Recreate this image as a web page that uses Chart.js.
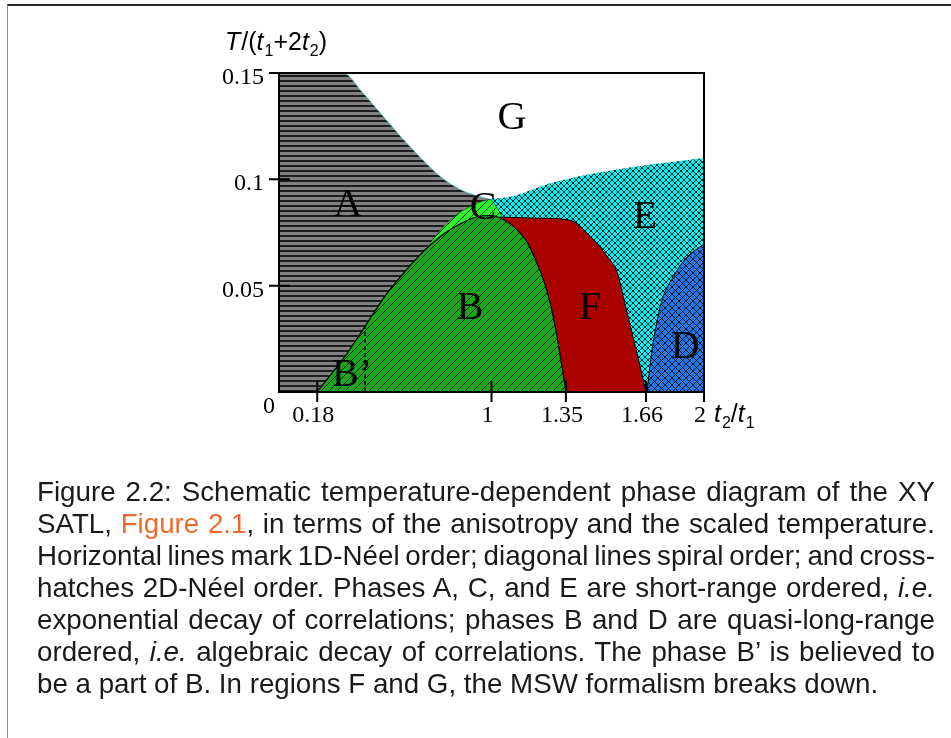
<!DOCTYPE html>
<html>
<head>
<meta charset="utf-8">
<script src="https://cdn.jsdelivr.net/npm/chart.js@4.4.0/dist/chart.umd.min.js"></script>
<style>
  html, body { margin: 0; padding: 0; background: #fff; }
  #page { position: relative; width: 951px; height: 738px; overflow: hidden; }
  #topline { position: absolute; left: 7px; top: 4px; width: 944px; height: 2px; background: #2b2b2b; }
  #leftline { position: absolute; left: 7px; top: 5px; width: 1px; height: 733px; background: #8c8c8c; }
  #c { position: absolute; left: 0; top: 0; }
  #caption { position: absolute; left: 37px; top: 476px; width: 907px;
    transform: scaleX(0.99); transform-origin: 0 0;
    font-family: "Liberation Sans", sans-serif;
    font-size: 28px; line-height: 32px; color: #1a1a1a; }
  #caption .j { text-align: justify; text-align-last: justify; word-spacing: -4px; }
  #caption .ref { color: #ee6a2c; }
</style>
</head>
<body>
<div id="page">
  <div id="topline"></div>
  <div id="leftline"></div>
  <canvas id="c" width="951" height="738"></canvas>
  <div id="caption">
    <div class="j">Figure 2.2: Schematic temperature-dependent phase diagram of the XY</div>
    <div class="j">SATL, <span class="ref">Figure 2.1</span>, in terms of the anisotropy and the scaled temperature.</div>
    <div class="j">Horizontal lines mark 1D-Néel order; diagonal lines spiral order; and cross-</div>
    <div class="j">hatches 2D-Néel order. Phases A, C, and E are short-range ordered, <i>i.e.</i></div>
    <div class="j">exponential decay of correlations; phases B and D are quasi-long-range</div>
    <div class="j">ordered, <i>i.e.</i> algebraic decay of correlations. The phase B’ is believed to</div>
    <div>be a part of B. In regions F and G, the MSW formalism breaks down.</div>
  </div>
</div>
<script>
// phase boundaries, x = t2/t1, y = T/(t1+2t2)
// (the figure is schematic: the tick labelled 1.66 sits at x = 1.727 on a linear axis)
var xTicks = [0.18, 1, 1.35, 1.727, 2];
var xTickLabels = ['0.18', '1', '1.35', '1.66', '2'];
var yTicks = [0.05, 0.1, 0.15];
var yTickLabels = ['0.05', '0.1', '0.15'];

var aX = [0, 0.301, 0.391, 0.485, 0.579, 0.673, 0.758, 0.842, 0.922, 0.993];
var aY = [0.15, 0.15, 0.1411, 0.1302, 0.1194, 0.1095, 0.1015, 0.0958, 0.0925, 0.0907];

var bX = [0.179, 0.320, 0.414, 0.508, 0.593, 0.687, 0.781, 0.861, 0.932, 0.993, 1.049, 1.111, 1.167, 1.214, 1.261, 1.299, 1.327, 1.351];
var bY = [0, 0.0181, 0.0323, 0.0464, 0.0567, 0.0668, 0.0748, 0.0795, 0.0824, 0.0830, 0.0815, 0.0772, 0.0706, 0.0606, 0.0476, 0.0313, 0.0148, 0];

var cX = [0.687, 0.781, 0.838, 0.899, 0.960, 0.993, 1.026, 1.054];
var cY = [0.0668, 0.0786, 0.0835, 0.0872, 0.0898, 0.0905, 0.0866, 0.0817];

var eX = [0.993, 1.101, 1.261, 1.416, 1.572, 1.732, 1.887, 2.0];
var eY = [0.0907, 0.0921, 0.0977, 0.1015, 0.1043, 0.1067, 0.1086, 0.1100];

var fX = [1.040, 1.228, 1.369, 1.464, 1.544, 1.591, 1.624, 1.666, 1.704, 1.727];
var fY = [0.0822, 0.0817, 0.0808, 0.0732, 0.0638, 0.0563, 0.0431, 0.0257, 0.0101, 0];

var dX = [1.732, 1.746, 1.765, 1.802, 1.854, 1.920, 2.0];
var dY = [0, 0.0125, 0.0257, 0.0431, 0.0540, 0.0635, 0.0695];

var bPrimeX = [0.405, 0.405];
var bPrimeY = [0, 0.031];

var labels = ['G', 'A', 'C', 'E', 'B', 'F', 'D', 'B’'];
var labelX = [1.096, 0.325, 0.960, 1.722, 0.899, 1.464, 1.911, 0.344];
var labelY = [0.1288, 0.0878, 0.0864, 0.0822, 0.0393, 0.0393, 0.0210, 0.0078];

function pts(xs, ys) {
    return xs.map(function(x, i) { return {x: x, y: ys[i]} })
}

var canvas = document.getElementById('c');
var ctx = canvas.getContext('2d');

function tile(w, h, bg, draw) {
    var t = document.createElement('canvas');
    t.width = w; t.height = h;
    var g = t.getContext('2d');
    g.fillStyle = bg;
    g.fillRect(0, 0, w, h);
    draw(g, w, h);
    return ctx.createPattern(t, 'repeat');
}
function diag(g, s, cross) {
    g.strokeStyle = 'rgba(0,0,0,0.85)';
    g.lineWidth = 1;
    g.beginPath();
    g.moveTo(-1, s + 1); g.lineTo(s + 1, -1);
    g.moveTo(-1, 1); g.lineTo(1, -1);
    g.moveTo(s - 1, s + 1); g.lineTo(s + 1, s - 1);
    if (cross) {
        g.moveTo(-1, -1); g.lineTo(s + 1, s + 1);
        g.moveTo(s - 1, -1); g.lineTo(s + 1, 1);
        g.moveTo(-1, s - 1); g.lineTo(1, s + 1);
    }
    g.stroke();
}

var hLines = tile(8, 5, '#808080', function(g, w) { g.fillStyle = '#1e1e1e'; g.fillRect(0, 0, w, 2) });
var greenDiag = tile(8, 8, '#18a818', function(g, s) { diag(g, s, false) });
var limeDiag = tile(8, 8, '#2cf22c', function(g, s) { diag(g, s, false) });
var cyanCross = tile(6, 6, '#00f4f4', function(g, s) { diag(g, s, true) });
var blueCross = tile(7, 7, '#1f78ea', function(g, s) { diag(g, s, true) });

var decor = {
    id: 'decor',
    afterDatasetsDraw: function(chart) {
        var c = chart.ctx, xs = chart.scales.x, ys = chart.scales.y, a = chart.chartArea;
        c.save();
        c.strokeStyle = '#000';
        c.lineWidth = 2;
        c.strokeRect(a.left, a.top, a.right - a.left, a.bottom - a.top);
        c.beginPath();
        yTicks.forEach(function(v) {
            var py = ys.getPixelForValue(v);
            c.moveTo(a.left - 10, py); c.lineTo(a.left + 11, py);
        });
        xTicks.forEach(function(v) {
            var px = xs.getPixelForValue(v);
            c.moveTo(px, a.bottom + 10); c.lineTo(px, a.bottom - 11);
        });
        c.stroke();

        c.fillStyle = '#000';
        c.font = '24px "Liberation Serif"';
        c.textAlign = 'right';
        c.textBaseline = 'alphabetic';
        yTicks.forEach(function(v, i) {
            c.fillText(yTickLabels[i], a.left - 15, ys.getPixelForValue(v) + 11);
        });
        c.textAlign = 'center';
        xTicks.forEach(function(v, i) {
            c.fillText(xTickLabels[i], xs.getPixelForValue(v) - 4, a.bottom + 30);
        });
        c.fillText('0', a.left - 10, a.bottom + 21);

        // region names
        c.font = '40px "Liberation Serif"';
        c.textBaseline = 'middle';
        labels.forEach(function(l, i) {
            c.fillText(l, xs.getPixelForValue(labelX[i]), ys.getPixelForValue(labelY[i]));
        });

        // axis titles
        rich(c, [['T', 1], ['/(', 0], ['t', 1], ['1', 2], ['+2', 0], ['t', 1], ['2', 2], [')', 0]], 225, 50);
        rich(c, [['t', 1], ['2', 2], ['/', 0], ['t', 1], ['1', 2]], 714, a.bottom + 30);
        c.restore();
    }
};

function rich(c, parts, x, y) {
    c.textAlign = 'left';
    c.textBaseline = 'alphabetic';
    parts.forEach(function(p) {
        var sub = p[1] == 2;
        c.font = (p[1] == 1 ? 'italic ' : '') + (sub ? '16px' : '25px') + ' "Liberation Sans"';
        c.fillText(p[0], x, sub ? y + 6 : y);
        x += c.measureText(p[0]).width + (p[1] == 1 ? 1 : 0);
    });
}

new Chart(ctx, {
    type: 'line',
    data: {
        datasets: [
            { data: pts(bPrimeX, bPrimeY), borderColor: '#000', borderWidth: 1.6, borderDash: [4, 3], fill: false },
            { data: pts(dX, dY), backgroundColor: blueCross, borderColor: '#000', borderWidth: 1, fill: 'origin' },
            { data: pts(bX, bY), backgroundColor: greenDiag, borderColor: '#000', borderWidth: 1.2, fill: 'origin' },
            { data: pts(fX, fY), backgroundColor: '#aa0000', borderColor: '#000', borderWidth: 1, fill: 'origin' },
            { data: pts(cX, cY), backgroundColor: limeDiag, borderColor: 'rgba(0,0,0,0.5)', borderWidth: 0.8, fill: 'origin' },
            { data: pts(aX, aY), backgroundColor: hLines, borderColor: 'rgba(60,200,200,0.7)', borderWidth: 1, fill: 'origin' },
            { data: pts(eX, eY), backgroundColor: cyanCross, borderColor: 'rgba(0,0,0,0)', borderWidth: 0, fill: 'origin' }
        ]
    },
    options: {
        responsive: false,
        animation: false,
        devicePixelRatio: 1,
        layout: { padding: { left: 279, right: 247, top: 73, bottom: 346 } },
        elements: { point: { radius: 0 }, line: { cubicInterpolationMode: 'monotone' } },
        scales: {
            x: { type: 'linear', min: 0, max: 2, display: false },
            y: { min: 0, max: 0.15, display: false }
        },
        plugins: { legend: { display: false }, tooltip: { enabled: false } }
    },
    plugins: [decor]
});
</script>
</body>
</html>
